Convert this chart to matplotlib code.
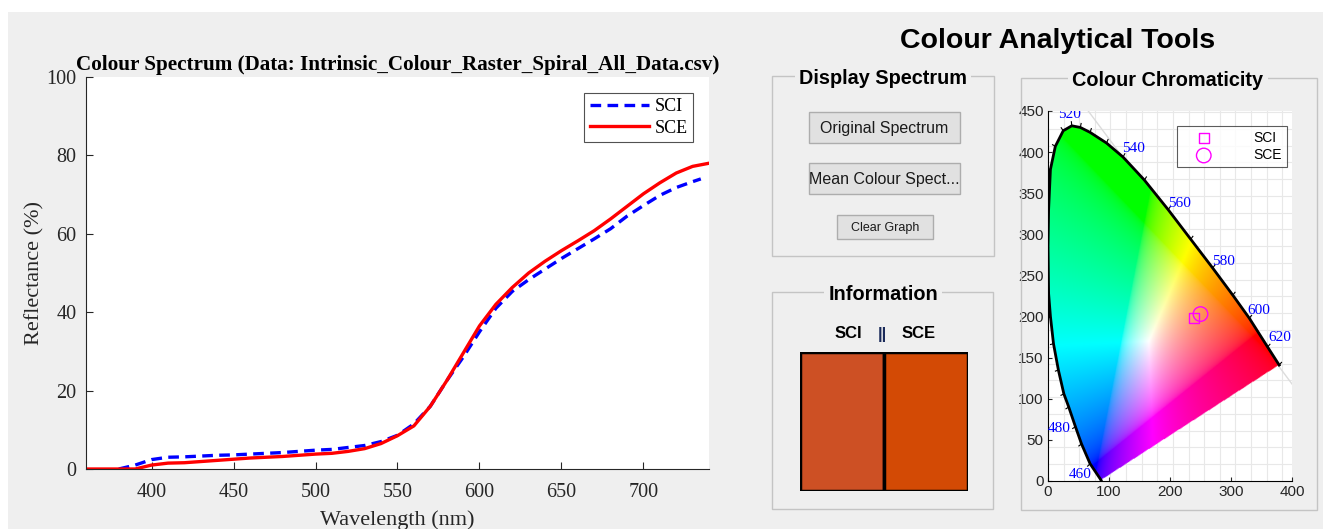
import numpy as np
import matplotlib
matplotlib.use("Agg")
import matplotlib.pyplot as plt
from matplotlib.patches import Rectangle
from matplotlib.path import Path

# ---- spectrum data ----
wl_sce = [360, 370, 380, 390, 400, 410, 420, 430, 440, 450, 460, 470, 480, 490, 500, 510, 520,
          530, 540, 550, 560, 570, 580, 590, 600, 610, 620, 630, 640, 650, 660, 670, 680, 690,
          700, 710, 720, 730, 740]
sce = [0, 0, 0, 0, 1.0, 1.5, 1.6, 1.9, 2.2, 2.5, 2.8, 3.0, 3.2, 3.5, 3.8, 4.0, 4.5,
       5.2, 6.5, 8.5, 11.0, 16.0, 22.5, 29.5, 36.5, 42.0, 46.3, 50.0, 53.0, 55.7, 58.2, 60.8,
       63.8, 67.0, 70.2, 73.0, 75.5, 77.2, 78.0]
wl_sci = [380, 390, 400, 410, 420, 430, 440, 450, 460, 470, 480, 490, 500, 510, 520, 530, 540,
          550, 560, 570, 580, 590, 600, 610, 620, 630, 640, 650, 660, 670, 680, 690, 700, 710,
          720, 730, 735]
sci = [0, 1.0, 2.4, 3.0, 3.1, 3.3, 3.5, 3.6, 3.8, 4.0, 4.2, 4.5, 4.8, 5.0, 5.5, 6.0, 7.0,
       8.6, 11.5, 16.0, 22.5, 28.5, 35.0, 41.0, 45.3, 48.3, 51.0, 53.7, 56.2, 58.7, 61.3,
       64.5, 67.2, 69.8, 71.8, 73.3, 74.0]

# swatch colours (SCI, SCE)
swatch_colors = ["#cd5024", "#d34a05"]

# chromaticity markers (image coordinates of the diagram)
chrom_labels = ["SCI", "SCE"]
chrom_x = [239, 250]
chrom_y = [198, 203]

# spectral locus outline
locus_x = [87, 69, 55, 45, 34, 26, 17, 9, 4, 1, 0, 1, 4, 12, 25, 39, 53, 69, 96, 123, 158,
           197, 234, 270, 303, 330, 360, 379]
locus_y = [1, 21, 45, 66, 90, 106, 135, 167, 200, 228, 285, 330, 379, 407, 426, 432, 430,
           424, 411, 394, 366, 330, 294, 259, 226, 198, 163, 141]
nm_labels = ["460", "480", "520", "540", "560", "580", "600", "620"]
nm_x = [52, 18, 36, 140, 216, 287, 345, 380]
nm_y = [8, 64, 446, 405, 337, 267, 207, 174]

# anchors linking diagram coordinates to CIE xy (for the colour fill)
anchor_xy_img = [(87, 1), (42, 70), (40, 432), (197, 330), (330, 200), (360, 163)]
anchor_xy_cie = [(0.144, 0.030), (0.091, 0.133), (0.074, 0.834), (0.373, 0.624),
                 (0.627, 0.372), (0.691, 0.308)]

W, H = 1323, 529
BG = "#efefef"
fig = plt.figure(figsize=(W / 100, H / 100), dpi=100, facecolor="white")
fig.patches.append(Rectangle((8 / W, 0), 1, 1 - 12 / H, transform=fig.transFigure,
                             facecolor=BG, edgecolor="none", zorder=-10))


def add_ax(l, t, r, b, **kw):
    return fig.add_axes([l / W, 1 - b / H, (r - l) / W, (b - t) / H], **kw)


def ftext(x, y, s, **kw):
    return fig.text(x / W, 1 - y / H, s, **kw)


def frect(l, t, r, b, **kw):
    p = Rectangle((l / W, 1 - b / H), (r - l) / W, (b - t) / H, transform=fig.transFigure, **kw)
    fig.patches.append(p)
    return p


serif = "Liberation Serif"
sans = "Liberation Sans"

# ---- spectrum plot ----
ax = add_ax(86, 77, 709, 469)
ax.plot(wl_sci, sci, color="blue", lw=2.4, ls=(0, (3.2, 1.9)), label="SCI")
ax.plot(wl_sce, sce, color="red", lw=2.4, label="SCE")
ax.set_xlim(360, 740)
ax.set_ylim(0, 100)
ax.set_xticks([400, 450, 500, 550, 600, 650, 700])
ax.set_yticks([0, 20, 40, 60, 80, 100])
ax.tick_params(direction="in", length=5, labelsize=14.5, colors="#262626")
ax.tick_params(axis="x", pad=10)
ax.tick_params(axis="y", pad=7)
for lab in ax.get_xticklabels() + ax.get_yticklabels():
    lab.set_fontfamily(serif)
ax.spines["top"].set_visible(False)
ax.spines["right"].set_visible(False)
for s in ("left", "bottom"):
    ax.spines[s].set_color("#262626")
ax.set_xlabel("Wavelength (nm)", fontfamily=serif, fontsize=16, color="#262626", labelpad=6)
ax.set_ylabel("Reflectance (%)", fontfamily=serif, fontsize=16, color="#262626", labelpad=1)
ax.set_title("Colour Spectrum (Data: Intrinsic_Colour_Raster_Spiral_All_Data.csv)",
             fontfamily=serif, fontsize=15.2, fontweight="bold", pad=5)
leg = ax.legend(loc="upper right", bbox_to_anchor=(0.975, 0.96), prop={"family": serif, "size": 13},
                frameon=True, fancybox=False, edgecolor="#262626", handlelength=3.3,
                handletextpad=0.3, borderpad=0.3, labelspacing=0.25, borderaxespad=0)
leg.get_frame().set_linewidth(0.8)

# ---- header ----
ftext(1058, 41, "Colour Analytical Tools", fontfamily=sans, fontsize=20.5, fontweight="bold",
      ha="center", va="center")


def panel(l, t, r, b, title, tx):
    frect(l, t, r, b, facecolor="none", edgecolor="#c4c4c4", lw=1.0)
    ftext(tx, t + 2, title, fontfamily=sans, fontsize=14.3, fontweight="bold", ha="center",
          va="center", bbox=dict(facecolor=BG, edgecolor="none", pad=3))


def button(l, t, r, b, label, size):
    frect(l, t, r, b, facecolor="#e1e1e1", edgecolor="#adadad", lw=1.0)
    ftext((l + r) / 2, (t + b) / 2 + 1, label, fontfamily=sans, fontsize=size, ha="center",
          va="center", color="#1a1a1a")


panel(772, 76, 994, 256, "Display Spectrum", 883)
button(809, 112, 960, 143, "Original Spectrum", 11.5)
button(809, 163, 960, 194, "Mean Colour Spect...", 11.5)
button(837, 215, 933, 239, "Clear Graph", 9)

panel(772, 292, 993, 509, "Information", 883)
ftext(848, 333, "SCI", fontfamily=sans, fontsize=12, fontweight="bold", ha="center", va="center")
ftext(882, 334, "||", fontfamily=sans, fontsize=12, fontweight="bold", ha="center", va="center",
      color="#1a2a5a")
ftext(919, 333, "SCE", fontfamily=sans, fontsize=12, fontweight="bold", ha="center", va="center")
sw = add_ax(800, 352, 968, 491)
sw.bar([0, 1], [1, 1], width=1.0, align="edge", color=swatch_colors, edgecolor="black", lw=2.5)
sw.set_xlim(0, 2)
sw.set_ylim(0, 1)
sw.axis("off")

panel(1021, 78, 1317, 510, "Colour Chromaticity", 1168)

# ---- chromaticity diagram ----
cx = add_ax(1048, 111, 1292, 481)
cx.set_xlim(0, 400)
cx.set_ylim(0, 450)
cx.set_facecolor("white")

# affine fit from diagram coordinates to CIE xy
A = np.column_stack([np.array(anchor_xy_img, float), np.ones(len(anchor_xy_img))])
coef, *_ = np.linalg.lstsq(A, np.array(anchor_xy_cie), rcond=None)
gx, gy = np.meshgrid(np.linspace(0, 400, 400), np.linspace(0, 450, 450))
pts = np.column_stack([gx.ravel(), gy.ravel()])
cie = np.column_stack([pts, np.ones(len(pts))]) @ coef
x, y = cie[:, 0], np.clip(cie[:, 1], 1e-3, None)
XYZ = np.column_stack([x / y, np.ones_like(x), (1 - x - y) / y])
M = np.array([[3.2406, -1.5372, -0.4986], [-0.9689, 1.8758, 0.0415], [0.0557, -0.2040, 1.0570]])
rgb = np.clip(XYZ @ M.T, 0, None)
rgb = rgb / rgb.max(axis=1, keepdims=True)
rgb = rgb ** (1 / 2.2)
outline = Path(np.column_stack([locus_x + [locus_x[0]], locus_y + [locus_y[0]]]))
inside = outline.contains_points(pts)
img = np.zeros((len(pts), 4))
img[:, :3] = rgb
img[:, 3] = inside
cx.imshow(img.reshape(450, 400, 4), origin="lower", extent=(0, 400, 0, 450), aspect="auto",
          interpolation="bilinear", zorder=2)

# faint background grid of the diagram image
cx.set_xticks(np.arange(0, 401, 25.6), minor=True)
cx.set_yticks(np.arange(0, 451, 20.4), minor=True)
cx.grid(which="minor", color="#e8e8e8", lw=0.8)
cx.set_axisbelow(True)
cx.plot([66, 400], [450, 118], color="#dcdcdc", lw=1, zorder=1)

# locus outline with ticks
cx.plot(locus_x, locus_y, color="black", lw=2.0, zorder=3, solid_joinstyle="round")
lx, ly = np.array(locus_x, float), np.array(locus_y, float)
dx, dy = np.gradient(lx), np.gradient(ly)
nrm = np.hypot(dx, dy)
for i in range(len(lx)):
    ox, oy = dy[i] / nrm[i], -dx[i] / nrm[i]
    cx.plot([lx[i], lx[i] - 5 * ox], [ly[i], ly[i] - 5 * oy], color="black", lw=0.8, zorder=3)
for s, tx_, ty_ in zip(nm_labels, nm_x, nm_y):
    cx.text(tx_, ty_, s, color="blue", fontfamily=serif, fontsize=11, ha="center", va="center",
            zorder=4, clip_on=True)

h_sci = cx.scatter(chrom_x[0], chrom_y[0], marker="s", s=55, facecolors="none",
                   edgecolors="magenta", lw=1.0, zorder=5)
h_sce = cx.scatter(chrom_x[1], chrom_y[1], marker="o", s=110, facecolors="none",
                   edgecolors="magenta", lw=1.0, zorder=5)
cleg = cx.legend([h_sci, h_sce], chrom_labels, loc="upper right", bbox_to_anchor=(0.98, 0.96),
                 prop={"family": sans, "size": 10}, frameon=True, fancybox=False,
                 edgecolor="#333333", handletextpad=2.0, borderpad=0.35, labelspacing=0.25,
                 borderaxespad=0, scatterpoints=1, handlelength=3.2)
cleg.get_frame().set_linewidth(0.8)

cx.set_xticks([0, 100, 200, 300, 400])
cx.set_yticks(np.arange(0, 451, 50))
cx.tick_params(which="major", direction="in", length=3, labelsize=11, colors="#262626", pad=3)
cx.tick_params(which="minor", length=0)
for lab in cx.get_xticklabels() + cx.get_yticklabels():
    lab.set_fontfamily(sans)
cx.spines["top"].set_visible(False)
cx.spines["right"].set_visible(False)

fig.savefig("out.png", dpi=100, facecolor="white")
